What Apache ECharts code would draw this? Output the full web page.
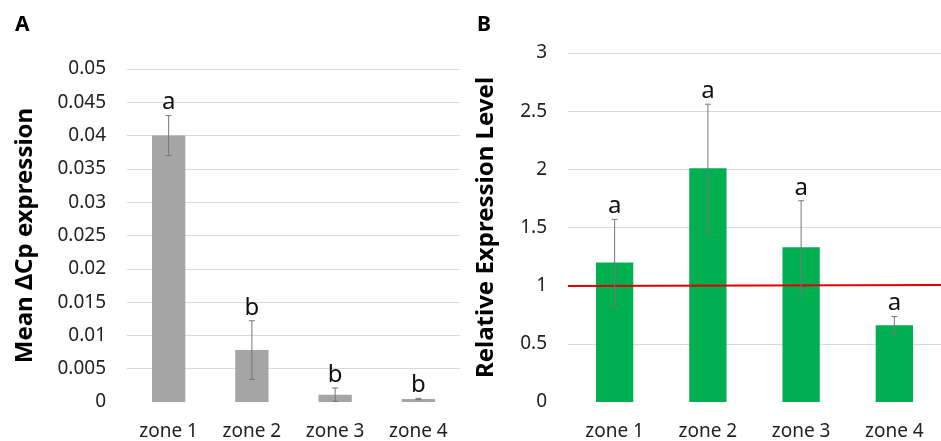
<!DOCTYPE html>
<html>
<head>
<meta charset="utf-8">
<script src="https://cdn.jsdelivr.net/npm/echarts@6/dist/echarts.min.js"></script>
<style>
html,body{margin:0;padding:0;background:#fff;}
#c{width:941px;height:441px;}
</style>
</head>
<body>
<div id="c"></div>
<script>
const categories = ['zone 1', 'zone 2', 'zone 3', 'zone 4'];
const meanA = [0.040, 0.0078, 0.0011, 0.00045];
const errA = [0.003, 0.0044, 0.001, 0.0001];
const lettersA = ['a', 'b', 'b', 'b'];
const meanB = [1.20, 2.01, 1.33, 0.66];
const errB = [0.37, 0.55, 0.40, 0.075];
const lettersB = ['a', 'a', 'a', 'a'];
const refLineB = [0.997, 1.006];
const axisA = { min: 0, max: 0.05, interval: 0.005 };
const axisB = { min: 0, max: 3, interval: 0.5 };
const titleA = 'Mean \u0394Cp expression';
const titleB = 'Relative Expression Level';

const FONT = '"Noto Sans", sans-serif';
const chart = echarts.init(document.getElementById('c'), null, { renderer: 'canvas' });

function errData(mean, err, letters) {
  return mean.map((m, i) => [i, m - err[i], m + err[i], letters[i]]);
}
function errRender(params, api) {
  const x = api.value(0);
  const lo = api.coord([x, api.value(1)]);
  const hi = api.coord([x, api.value(2)]);
  const cap = 3;
  const style = { stroke: '#777', lineWidth: 1 };
  return {
    type: 'group',
    children: [
      { type: 'line', shape: { x1: lo[0], y1: lo[1], x2: hi[0], y2: hi[1] }, style },
      { type: 'line', shape: { x1: lo[0] - cap, y1: lo[1], x2: lo[0] + cap, y2: lo[1] }, style },
      { type: 'line', shape: { x1: hi[0] - cap, y1: hi[1], x2: hi[0] + cap, y2: hi[1] }, style },
      { type: 'text', style: { x: hi[0], y: hi[1] - 1, text: api.value(3), fill: '#111', font: '24px ' + FONT, textAlign: 'center', textVerticalAlign: 'bottom' } }
    ]
  };
}

const tickLabel = { color: '#222', fontSize: 19, fontFamily: FONT };
const nameStyle = { color: '#000', fontSize: 24, fontWeight: 'bold', fontFamily: FONT };

chart.setOption({
  animation: false,
  backgroundColor: '#fff',
  grid: [
    { left: 127, right: 481, top: 69, bottom: 39 },
    { left: 568, width: 377, top: 53, bottom: 39 }
  ],
  graphic: [
    { type: 'text', left: 15, top: 15, style: { text: 'A', font: 'bold 21px ' + FONT, fill: '#000' } },
    { type: 'text', left: 477, top: 15, style: { text: 'B', font: 'bold 21px ' + FONT, fill: '#000' } }
  ],
  xAxis: [
    { type: 'category', gridIndex: 0, data: categories, axisLine: { show: false }, axisTick: { show: false }, axisLabel: Object.assign({ margin: 20 }, tickLabel) },
    { type: 'category', gridIndex: 1, data: categories, axisLine: { show: false }, axisTick: { show: false }, axisLabel: Object.assign({ margin: 20 }, tickLabel) },
    { type: 'value', gridIndex: 1, min: 0, max: 1, show: false }
  ],
  yAxis: [
    { type: 'value', gridIndex: 0, min: axisA.min, max: axisA.max, interval: axisA.interval,
      name: titleA, nameLocation: 'middle', nameGap: 90, nameTextStyle: nameStyle,
      axisLine: { show: false }, axisTick: { show: false },
      axisLabel: Object.assign({ margin: 21, formatter: v => String(+v.toFixed(3)) }, tickLabel),
      splitLine: { show: true, showMinLine: false, lineStyle: { color: '#d9d9d9', width: 1 } } },
    { type: 'value', gridIndex: 1, min: axisB.min, max: axisB.max, interval: axisB.interval,
      name: titleB, nameLocation: 'middle', nameGap: 70, nameTextStyle: nameStyle,
      axisLine: { show: false }, axisTick: { show: false },
      axisLabel: Object.assign({ margin: 21, formatter: v => String(+v.toFixed(1)) }, tickLabel),
      splitLine: { show: true, showMinLine: false, lineStyle: { color: '#d9d9d9', width: 1 } } }
  ],
  series: [
    { type: 'bar', xAxisIndex: 0, yAxisIndex: 0, data: meanA, barWidth: '40%', itemStyle: { color: '#a5a5a5' } },
    { type: 'custom', xAxisIndex: 0, yAxisIndex: 0, data: errData(meanA, errA, lettersA), renderItem: errRender, z: 5 },
    { type: 'bar', xAxisIndex: 1, yAxisIndex: 1, data: meanB, barWidth: '40%', itemStyle: { color: '#00b050' } },
    { type: 'line', xAxisIndex: 2, yAxisIndex: 1, data: [[0, refLineB[0]], [1, refLineB[1]]], symbol: 'none', lineStyle: { color: '#e00000', width: 2 }, z: 4 },
    { type: 'custom', xAxisIndex: 1, yAxisIndex: 1, data: errData(meanB, errB, lettersB), renderItem: errRender, z: 5 }
  ]
});
</script>
</body>
</html>
